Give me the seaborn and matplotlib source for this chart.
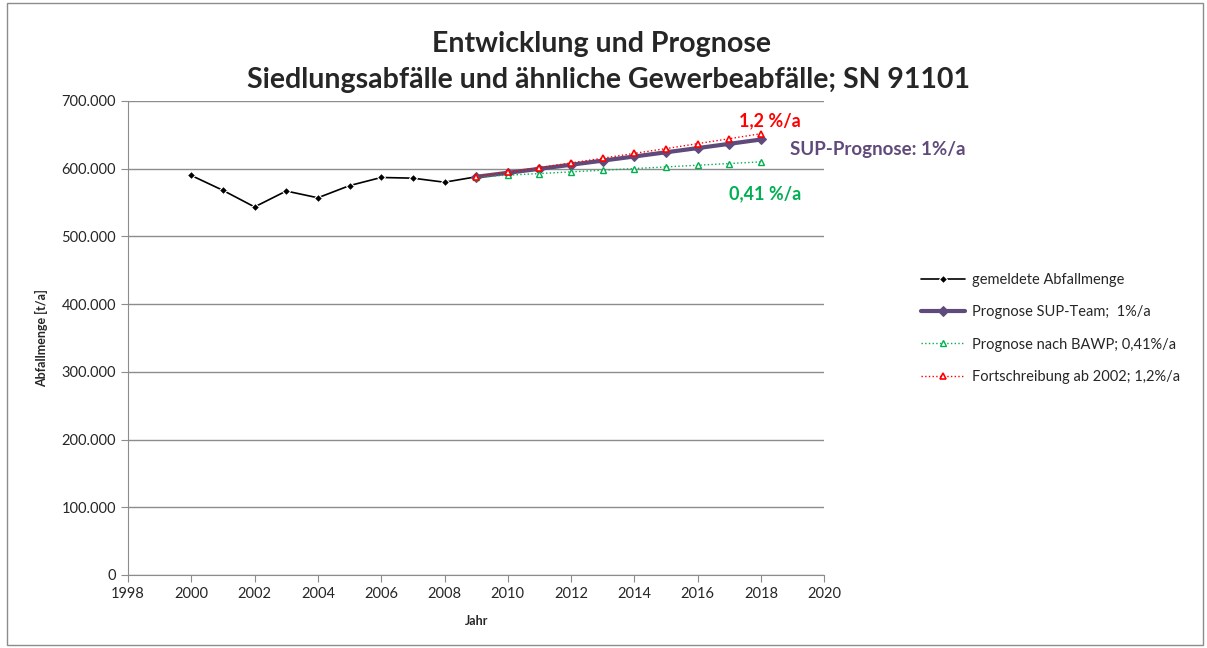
import seaborn as sns
import matplotlib.pyplot as plt
import pandas as pd
from matplotlib.patches import Rectangle
from matplotlib.ticker import FuncFormatter

jahre_ist = [2000, 2001, 2002, 2003, 2004, 2005, 2006, 2007, 2008, 2009]
menge_ist = [590000, 568000, 543500, 567000, 557000, 575000, 587000, 586000, 580000, 588000]

jahre_prog = [2009, 2010, 2011, 2012, 2013, 2014, 2015, 2016, 2017, 2018]
sup_team = [588000, 593900, 599800, 605800, 611900, 618000, 624200, 630400, 636700, 643100]
bawp = [588000, 590400, 592800, 595300, 597700, 600200, 602600, 605100, 607600, 610100]
fortschreibung = [588000, 594800, 601600, 608500, 615500, 622600, 629700, 637000, 644300, 651700]

namen = ['gemeldete Abfallmenge', 'Prognose SUP-Team;  1%/a',
         'Prognose nach BAWP; 0,41%/a', 'Fortschreibung ab 2002; 1,2%/a']

sns.set_style('white')
plt.rcParams['font.family'] = ['Lato', 'DejaVu Sans']

fig = plt.figure(figsize=(12.07, 6.48), dpi=100)
ax = fig.add_axes([0.106, 0.1127, 0.577, 0.7315])

df_ist = pd.DataFrame({'Jahr': jahre_ist, 'Menge': menge_ist})
df_prog = pd.DataFrame({'Jahr': jahre_prog, 'sup': sup_team, 'bawp': bawp, 'fort': fortschreibung})

sns.lineplot(data=df_ist, x='Jahr', y='Menge', ax=ax, color='black', lw=1.2,
             marker='D', markersize=4, label=namen[0])
sns.lineplot(data=df_prog, x='Jahr', y='sup', ax=ax, color='#604A7B', lw=3,
             marker='D', markersize=5, markeredgecolor='#604A7B', label=namen[1])
sns.lineplot(data=df_prog, x='Jahr', y='bawp', ax=ax, color='#00B050', lw=1, ls=':',
             marker='^', markersize=5, markerfacecolor='white', markeredgecolor='#00B050',
             markeredgewidth=1, label=namen[2])
sns.lineplot(data=df_prog, x='Jahr', y='fort', ax=ax, color='#FF0000', lw=1, ls=':',
             marker='^', markersize=5, markerfacecolor='white', markeredgecolor='#FF0000',
             markeredgewidth=1.2, label=namen[3])

ax.set_xlim(1998, 2020)
ax.set_ylim(0, 700000)
ax.set_xticks(range(1998, 2021, 2))
ax.set_yticks(range(0, 700001, 100000))
ax.yaxis.set_major_formatter(FuncFormatter(lambda v, p: '0' if v == 0 else f'{int(v):,}'.replace(',', '.')))
ax.grid(axis='y', color='#8c8c8c', lw=1)
ax.set_axisbelow(True)
for s in ['top', 'right']:
    ax.spines[s].set_visible(False)
for s in ['left', 'bottom']:
    ax.spines[s].set_color('#8c8c8c')
ax.tick_params(axis='both', direction='out', length=5, color='#8c8c8c', labelsize=10.5,
               left=True, bottom=True)
ax.set_xlabel('Jahr', fontsize=9, fontweight='bold', labelpad=10)
ax.set_ylabel('Abfallmenge [t/a]', fontsize=9, fontweight='bold', labelpad=10)

ax.legend(loc='center left', bbox_to_anchor=(1.12, 0.52), frameon=False, fontsize=10.5,
          handlelength=3.0, handletextpad=0.5, labelspacing=1.25)

ax.text(2017.3, 663000, '1,2 %/a', color='#FF0000', fontsize=13, fontweight='bold')
ax.text(2018.9, 620000, 'SUP-Prognose: 1%/a', color='#604A7B', fontsize=13.5, fontweight='bold')
ax.text(2017.0, 555000, '0,41 %/a', color='#00B050', fontsize=13, fontweight='bold')

fig.text(0.498, 0.932, 'Entwicklung und Prognose', ha='center', va='center',
         fontsize=20.5, fontweight='bold')
fig.text(0.504, 0.876, 'Siedlungsabfälle und ähnliche Gewerbeabfälle; SN 91101', ha='center',
         va='center', fontsize=20.5, fontweight='bold')

fig.patches.append(Rectangle((0.006, 0.004), 0.991, 0.992, transform=fig.transFigure,
                             fill=False, edgecolor='#8c8c8c', lw=1))

fig.savefig('out.png', dpi=100)
